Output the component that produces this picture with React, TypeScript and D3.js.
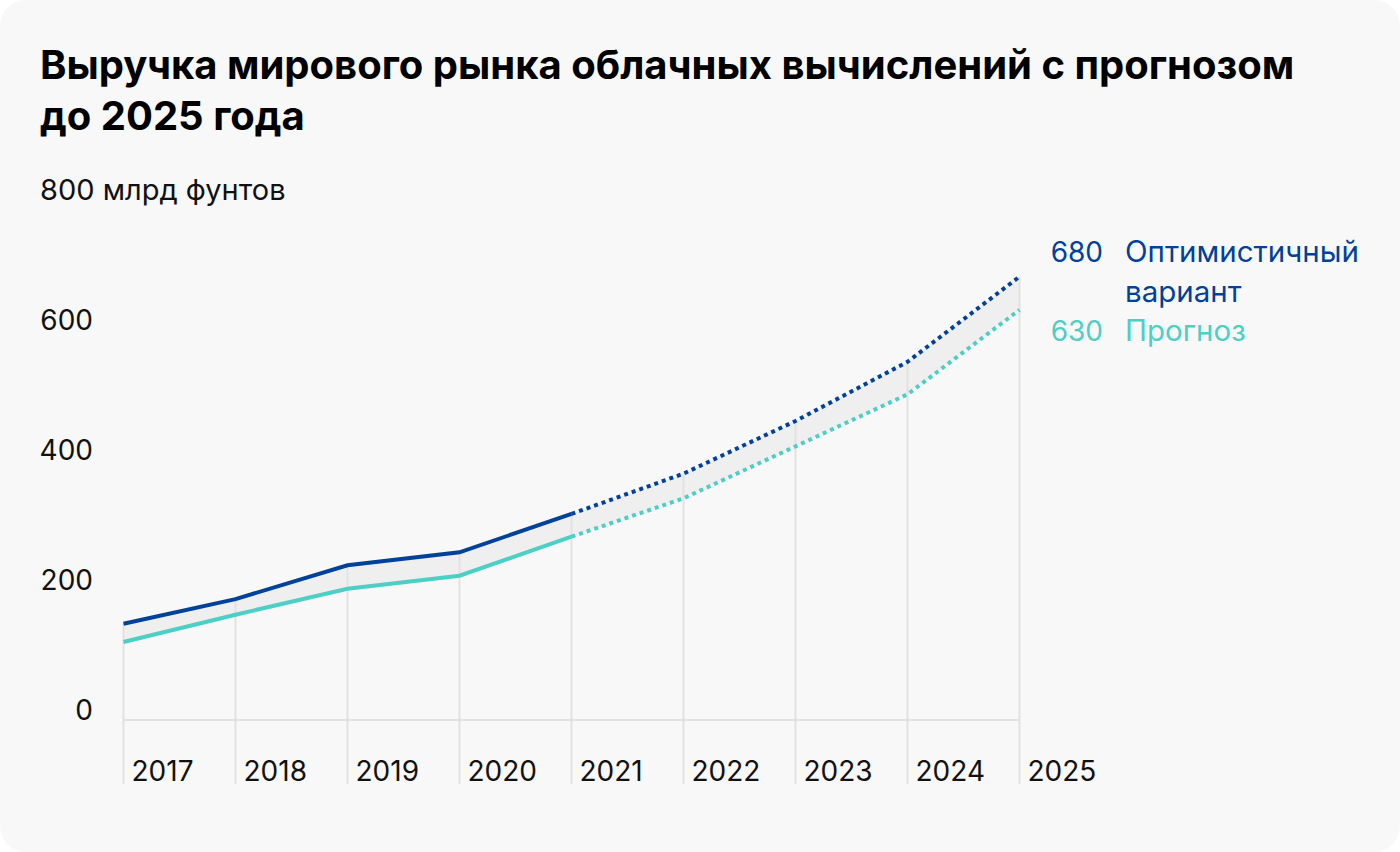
import React from "react";
import * as d3 from "d3";

const years = [2017, 2018, 2019, 2020, 2021, 2022, 2023, 2024, 2025];
const optimistic = [148, 186, 238, 258, 317, 379, 460, 551, 682];
const forecast = [120, 162, 202, 222, 282, 341, 421, 501, 631];
const yTicks = [0, 200, 400, 600];
const forecastStartYear = 2021;
const titleLines = ["Выручка мирового рынка облачных вычислений с прогнозом", "до 2025 года"];
const unitLabel = "800 млрд фунтов";
const legendItems = [
  { value: "680", lines: ["Оптимистичный", "вариант"], key: "opt" },
  { value: "630", lines: ["Прогноз"], key: "fc" },
];

const W = 1400;
const H = 852;
const BLUE = "#004299";
const TEAL = "#4ccfc4";
const FONT = "Inter, Roboto, 'Noto Sans', sans-serif";

export default function App() {
  const x = d3.scaleLinear().domain([2017, 2025]).range([123.5, 1019.5]);
  const y = d3.scaleLinear().domain([0, 800]).range([720, 200]);

  const rows = years.map((yr, i) => ({ yr, o: optimistic[i], f: forecast[i] }));
  const solidRows = rows.filter((r) => r.yr <= forecastStartYear);
  const dotRows = rows.filter((r) => r.yr >= forecastStartYear);

  const area = d3
    .area<any>()
    .x((d) => x(d.yr))
    .y0((d) => y(d.f))
    .y1((d) => y(d.o));
  const lineO = d3.line<any>().x((d) => x(d.yr)).y((d) => y(d.o));
  const lineF = d3.line<any>().x((d) => x(d.yr)).y((d) => y(d.f));

  const baselineY = y(0);

  return (
    <svg
      width={W}
      height={H}
      style={{ position: "absolute", left: 0, top: 0, display: "block" }}
      fontFamily={FONT}
    >
      <rect x={0} y={0} width={W} height={H} fill="#ffffff" />
      <rect x={0} y={0} width={W} height={H} rx={26} ry={26} fill="#f8f8f8" />

      {titleLines.map((t, i) => (
        <text key={i} x={40} y={79 + i * 51} fontSize={40} fontWeight={700} fill="#000">
          {t}
        </text>
      ))}

      <text x={40} y={y(800)} fontSize={29} fill="#111">
        {unitLabel}
      </text>
      {yTicks.map((t) => (
        <text key={t} x={93} y={y(t)} fontSize={28} textAnchor="end" fill="#111">
          {t}
        </text>
      ))}

      <path d={area(rows) || ""} fill="#efefef" />

      {rows.map((r) => (
        <line
          key={r.yr}
          x1={x(r.yr)}
          x2={x(r.yr)}
          y1={y(r.o)}
          y2={784}
          stroke="#e2e2e2"
          strokeWidth={2}
        />
      ))}
      <line x1={x(2017)} x2={x(2025)} y1={baselineY} y2={baselineY} stroke="#e2e2e2" strokeWidth={2} />

      {years.map((yr) => (
        <text key={yr} x={x(yr) + 8} y={781} fontSize={28} fill="#111">
          {yr}
        </text>
      ))}

      <path d={lineF(solidRows) || ""} fill="none" stroke={TEAL} strokeWidth={4} />
      <path d={lineO(solidRows) || ""} fill="none" stroke={BLUE} strokeWidth={4} />
      <path d={lineF(dotRows) || ""} fill="none" stroke={TEAL} strokeWidth={4} strokeDasharray="4 4" />
      <path d={lineO(dotRows) || ""} fill="none" stroke={BLUE} strokeWidth={4} strokeDasharray="4 4" />

      <text x={1103} y={262} fontSize={28} textAnchor="end" fill={BLUE}>
        {legendItems[0].value}
      </text>
      {legendItems[0].lines.map((l, i) => (
        <text key={l} x={1125} y={262 + i * 40} fontSize={29.5} fill={BLUE}>
          {l}
        </text>
      ))}
      <text x={1103} y={341} fontSize={28} textAnchor="end" fill={TEAL}>
        {legendItems[1].value}
      </text>
      <text x={1125} y={341} fontSize={29.5} fill={TEAL}>
        {legendItems[1].lines[0]}
      </text>
    </svg>
  );
}
